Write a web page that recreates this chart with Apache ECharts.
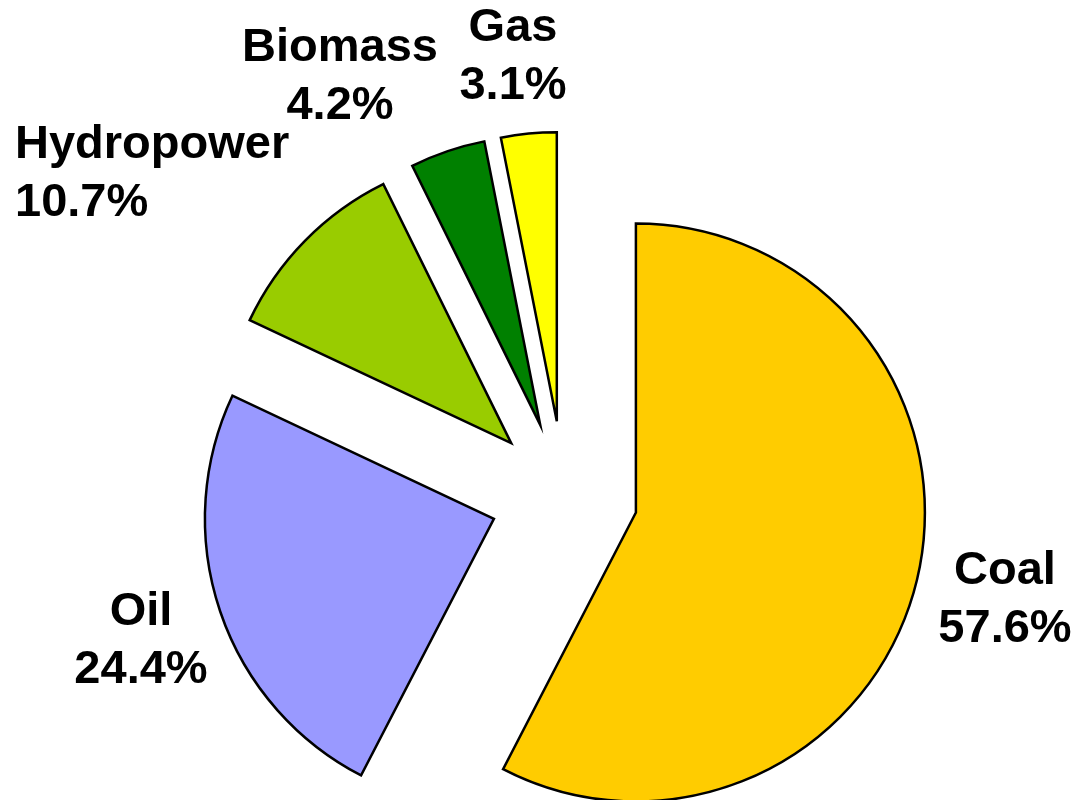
<!DOCTYPE html>
<html>
<head>
<meta charset="utf-8">
<title>Energy mix</title>
<script src="https://cdn.jsdelivr.net/npm/echarts@6/dist/echarts.min.js"></script>
<style>
  html, body { margin: 0; padding: 0; background: #fff; }
  #chart { width: 1075px; height: 800px; }
</style>
</head>
<body>
<div id="chart"></div>
<script>
// data
const categories = ['Coal', 'Oil', 'Hydropower', 'Biomass', 'Gas'];
const shares = [57.6, 24.4, 10.7, 4.2, 3.1];

// look
const colors = ['#FFCC00', '#9999FF', '#99CC00', '#008000', '#FFFF00'];
// where each label sits (x anchor, y middle, alignment)
const labelPos = [
  { x: 1005, y: 600, align: 'center' },
  { x: 141, y: 641, align: 'center' },
  { x: 15, y: 174, align: 'left' },
  { x: 340, y: 77, align: 'center' },
  { x: 513, y: 57, align: 'center' }
];

let myChart = echarts.init(document.getElementById('chart'));

let pieData = [];
let labels = [];
for (let i in categories) {
  pieData.push({
    name: categories[i],
    value: shares[i],
    selected: true, // every slice is pulled out
    itemStyle: { color: colors[i] }
  });
  // the series labels follow the select offset, so put them in as plain text
  labels.push({
    type: 'text',
    x: labelPos[i].x,
    y: labelPos[i].y,
    silent: true,
    style: {
      text: categories[i] + '\n' + shares[i].toFixed(1) + '%',
      fill: '#000',
      fontFamily: 'Liberation Sans, Arial, sans-serif',
      fontWeight: 'bold',
      fontSize: 47,
      lineHeight: 58,
      align: labelPos[i].align,
      verticalAlign: 'middle'
    }
  });
}

let option = {
  animation: false,
  graphic: labels,
  series: [
    {
      type: 'pie',
      center: [564, 495],
      radius: 289,
      startAngle: 90,
      clockwise: true,
      selectedMode: 'multiple',
      selectedOffset: 74,
      emphasis: { scale: false, disabled: true },
      itemStyle: {
        borderColor: '#000',
        borderWidth: 2.5,
        borderJoin: 'miter'
      },
      label: { show: false },
      labelLine: { show: false },
      data: pieData
    }
  ]
};

myChart.setOption(option);
</script>
</body>
</html>
